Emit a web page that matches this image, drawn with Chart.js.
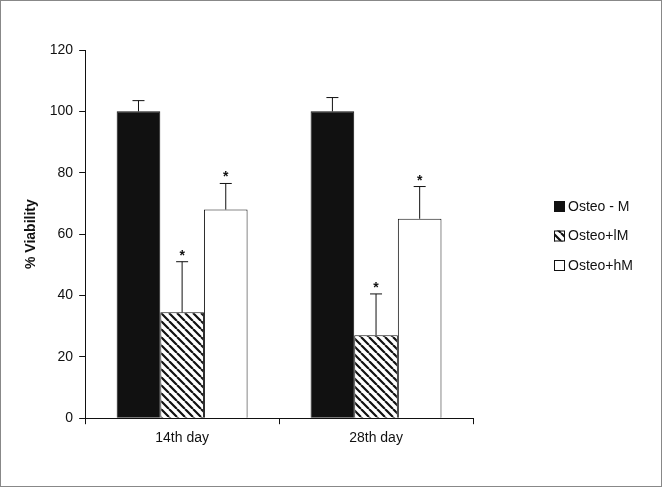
<!DOCTYPE html>
<html>
<head>
<script src="https://cdn.jsdelivr.net/npm/chart.js@4"></script>
<style>
html, body { margin: 0; padding: 0; background: #fff; }
#wrap { position: absolute; left: 0; top: 0; width: 660px; height: 485px; border: 1px solid #888; }
</style>
</head>
<body>
<div id="wrap"><canvas id="c" width="660" height="485"></canvas></div>
<script>
const categories = ['14th day', '28th day'];
const seriesNames = ['Osteo - M', 'Osteo+lM', 'Osteo+hM'];
const osteoM = [100, 100];
const osteoLM = [34.5, 27];
const osteoHM = [68, 65];
const errM = [3.5, 4.5];
const errLM = [16.5, 13.5];
const errHM = [8.5, 10.5];
const starred = [false, true, true];

function hatch() {
    const p = document.createElement('canvas');
    p.width = 8; p.height = 8;
    const g = p.getContext('2d');
    g.fillStyle = '#fff'; g.fillRect(0, 0, 8, 8);
    g.strokeStyle = '#111'; g.lineWidth = 2.2;
    g.beginPath();
    for (let k = -8; k <= 16; k += 8) { g.moveTo(k, 0); g.lineTo(k + 8, 8); }
    g.stroke();
    return document.getElementById('c').getContext('2d').createPattern(p, 'repeat');
}
const fills = ['#111', hatch(), '#fff'];

const errs = [errM, errLM, errHM];
const errorPlugin = {
    id: 'errs',
    afterDatasetsDraw(chart) {
        const ctx = chart.ctx, y = chart.scales.y;
        ctx.save();
        ctx.strokeStyle = '#111'; ctx.lineWidth = 1;
        ctx.fillStyle = '#111'; ctx.font = 'bold 14px "Liberation Sans"'; ctx.textAlign = 'center';
        chart.data.datasets.forEach((ds, i) => {
            chart.getDatasetMeta(i).data.forEach((bar, j) => {
                const top = y.getPixelForValue(ds.data[j] + errs[i][j]);
                const x = bar.x;
                ctx.beginPath();
                ctx.moveTo(x, bar.y); ctx.lineTo(x, top);
                ctx.moveTo(x - 6, top); ctx.lineTo(x + 6, top);
                ctx.stroke();
                if (starred[i]) ctx.fillText('*', x, top - 2);
            });
        });
        // legend
        ctx.font = '14px "Liberation Sans"'; ctx.textAlign = 'left'; ctx.textBaseline = 'middle';
        seriesNames.forEach((name, i) => {
            const ly = 206 + i * 29.5;
            ctx.fillStyle = fills[i];
            ctx.fillRect(553, ly - 6, 11, 11);
            ctx.strokeRect(553.5, ly - 5.5, 10, 10);
            ctx.fillStyle = '#111';
            ctx.fillText(name, 567, ly);
        });
        ctx.restore();
    }
};

const common = { borderColor: '#111', borderWidth: 1, categoryPercentage: 0.675, barPercentage: 1 };
new Chart(document.getElementById('c'), {
    type: 'bar',
    data: {
        labels: categories,
        datasets: seriesNames.map((name, i) =>
            Object.assign({ label: name, data: [osteoM, osteoLM, osteoHM][i], backgroundColor: fills[i] }, common)),
    },
    options: {
        responsive: false,
        animation: false,
        layout: { padding: { left: 18, top: 49, right: 188, bottom: 33 } },
        plugins: { tooltip: { enabled: false }, legend: { display: false } },
        scales: {
            x: {
                grid: { display: true, drawOnChartArea: false, offset: true, color: '#111', tickLength: 6 },
                border: { color: '#111' },
                ticks: { color: '#111', font: { family: 'Liberation Sans', size: 14 }, padding: 6 },
            },
            y: {
                min: 0, max: 120,
                grid: { drawOnChartArea: false, color: '#111', tickLength: 6 },
                border: { color: '#111' },
                ticks: { stepSize: 20, color: '#111', font: { family: 'Liberation Sans', size: 14 }, padding: 6 },
                title: { display: true, text: '% Viability', color: '#111', font: { family: 'Liberation Sans', size: 14, weight: 'bold' } },
            },
        },
    },
    plugins: [errorPlugin],
});
</script>
</body>
</html>
